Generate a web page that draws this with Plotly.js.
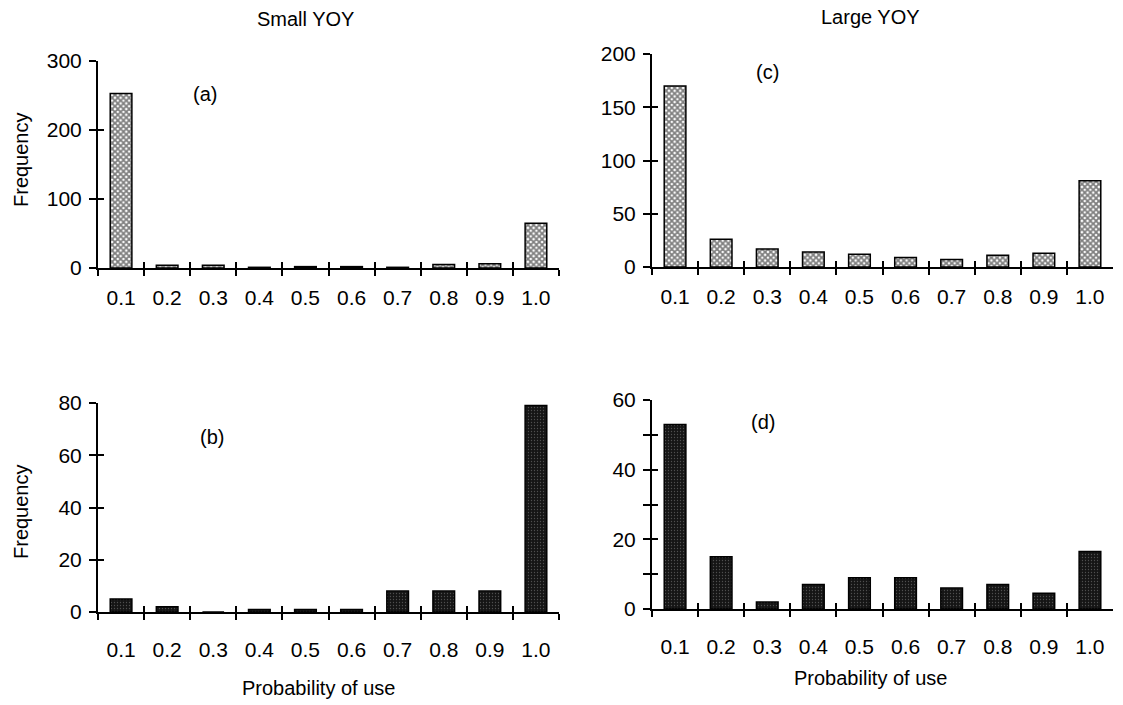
<!DOCTYPE html>
<html>
<head>
<meta charset="utf-8">
<script src="https://cdn.plot.ly/plotly-3.0.1.min.js"></script>
<style>html,body{margin:0;padding:0;background:#fff;}#chart{width:1123px;height:705px;}</style>
</head>
<body>
<div id="chart"></div>
<script>
// Data
const categories = ["0.1","0.2","0.3","0.4","0.5","0.6","0.7","0.8","0.9","1.0"];
const smallA = [253, 4, 4, 1, 2, 2, 1, 5, 6, 65];   // (a) Small YOY, top
const smallB = [5, 2, 0, 1, 1, 1, 8, 8, 8, 79];     // (b) Small YOY, bottom
const largeC = [170, 26, 17, 14, 12, 9, 7, 11, 13, 81]; // (c) Large YOY, top
const largeD = [53, 15, 2, 7, 9, 9, 6, 7, 4.5, 16.5];   // (d) Large YOY, bottom

const W = 1123, H = 705;
const px = v => v / W;
const py = v => 1 - v / H;

const family = '"Liberation Sans", Arial, sans-serif';
const tickFont = {family: family, size: 21, color: '#000'};

const topMarker = {
  color: '#ffffff',
  line: {color: '#000', width: 1.5},
  pattern: {shape: 'x', size: 4, solidity: 0.7, fgcolor: '#000', bgcolor: '#ffffff', fillmode: 'overlay'}
};
const botMarker = {
  color: '#151515',
  line: {color: '#000', width: 1.5},
  pattern: {shape: '.', size: 3, solidity: 0.15, fgcolor: '#8a8a8a', bgcolor: '#151515', fillmode: 'overlay'}
};

function bar(y, xa, ya, marker) {
  return {type: 'bar', x: categories, y: y, xaxis: xa, yaxis: ya, width: 0.47,
          marker: marker, hoverinfo: 'skip', showlegend: false};
}
// invisible copy on the twin axes (draws nothing; only makes the inner tick halves appear)
function ghost(y, xa, ya) {
  return {type: 'bar', x: categories, y: y, xaxis: xa, yaxis: ya, width: 0.47,
          marker: {opacity: 0}, hoverinfo: 'skip', showlegend: false};
}

const data = [
  bar(smallA, 'x', 'y', topMarker),
  bar(largeC, 'x2', 'y2', topMarker),
  bar(smallB, 'x3', 'y3', botMarker),
  bar(largeD, 'x4', 'y4', botMarker),
  ghost(smallA, 'x5', 'y5'), ghost(largeC, 'x6', 'y6'),
  ghost(smallB, 'x7', 'y7'), ghost(largeD, 'x8', 'y8')
];

function xAxis(dom, anchor, standoff) {
  return {domain: dom, anchor: anchor, type: 'category', categoryorder: 'array', categoryarray: categories,
    range: [-0.5, 9.5], tickson: 'boundaries', ticks: 'outside', ticklen: 6, tickwidth: 2, tickcolor: '#000',
    showline: true, linewidth: 2, linecolor: '#000', showgrid: false, zeroline: false,
    tickfont: tickFont, ticklabelstandoff: standoff, fixedrange: true};
}
function yAxis(dom, anchor, max, dtick, minor) {
  const a = {domain: dom, anchor: anchor, range: [0, max], dtick: dtick, tick0: 0, ticks: 'outside', ticklen: 7,
    tickwidth: 2, tickcolor: '#000', showline: true, linewidth: 2, linecolor: '#000', showgrid: false,
    zeroline: false, tickfont: tickFont, ticklabelstandoff: 3, fixedrange: true};
  if (minor) a.minor = {dtick: minor, ticks: 'outside', ticklen: 7, tickwidth: 2, tickcolor: '#000', showgrid: false};
  return a;
}
// twin axes at the same place that draw the inner half of each crossing tick
function xIn(anchor, dom) {
  return {anchor: anchor, domain: dom, type: 'category', categoryorder: 'array',
    categoryarray: categories, range: [-0.5, 9.5], tickson: 'boundaries',
    ticks: 'inside', ticklen: 6, tickwidth: 2, tickcolor: '#000', showticklabels: false,
    showline: false, showgrid: false, zeroline: false, fixedrange: true};
}
function yIn(anchor, dom, max, dtick) {
  return {anchor: anchor, domain: dom, range: [0, max], tick0: 0, dtick: dtick,
    ticks: 'inside', ticklen: 6, tickwidth: 2, tickcolor: '#000', showticklabels: false,
    showline: false, showgrid: false, zeroline: false, fixedrange: true};
}

const dxL = [px(98), px(559)], dxR = [px(652), px(1113)];
const dyA = [py(268), py(61)], dyC = [py(267), py(54)];
const dyB = [py(612), py(403)], dyD = [py(609), py(400)];

function ann(text, x, y, size, angle) {
  return {text: text, x: x, y: y, xref: 'paper', yref: 'paper', showarrow: false,
    xanchor: 'center', yanchor: 'middle', textangle: angle || 0,
    font: {family: family, size: size || 19, color: '#000'}};
}

const layout = {
  width: W, height: H, margin: {l: 0, r: 0, t: 0, b: 0},
  paper_bgcolor: '#fff', plot_bgcolor: 'rgba(0,0,0,0)', showlegend: false, bargap: 0.5,
  xaxis: xAxis(dxL, 'y', 10), yaxis: yAxis(dyA, 'x', 300, 100),
  xaxis2: xAxis(dxR, 'y2', 10), yaxis2: yAxis(dyC, 'x2', 200, 50),
  xaxis3: xAxis(dxL, 'y3', 18), yaxis3: yAxis(dyB, 'x3', 80, 20),
  xaxis4: xAxis(dxR, 'y4', 18), yaxis4: yAxis(dyD, 'x4', 60, 20, 10),
  xaxis5: xIn('y5', dxL), yaxis5: yIn('x5', dyA, 300, 100),
  xaxis6: xIn('y6', dxR), yaxis6: yIn('x6', dyC, 200, 50),
  xaxis7: xIn('y7', dxL), yaxis7: yIn('x7', dyB, 80, 20),
  xaxis8: xIn('y8', dxR), yaxis8: yIn('x8', dyD, 60, 10),
  annotations: [
    ann('Small YOY', px(305), py(19), 20),
    ann('Large YOY', px(870), py(17), 20),
    ann('(a)', px(205), py(94), 20),
    ann('(c)', px(767), py(72), 20),
    ann('(b)', px(212), py(437), 20),
    ann('(d)', px(763), py(422), 20),
    ann('Frequency', px(21), py(160), 20, -90),
    ann('Frequency', px(21), py(512), 20, -90),
    ann('Probability of use', px(318), py(688), 20),
    ann('Probability of use', px(870), py(678), 20)
  ]
};

Plotly.newPlot('chart', data, layout, {staticPlot: true, displayModeBar: false});
</script>
</body>
</html>
